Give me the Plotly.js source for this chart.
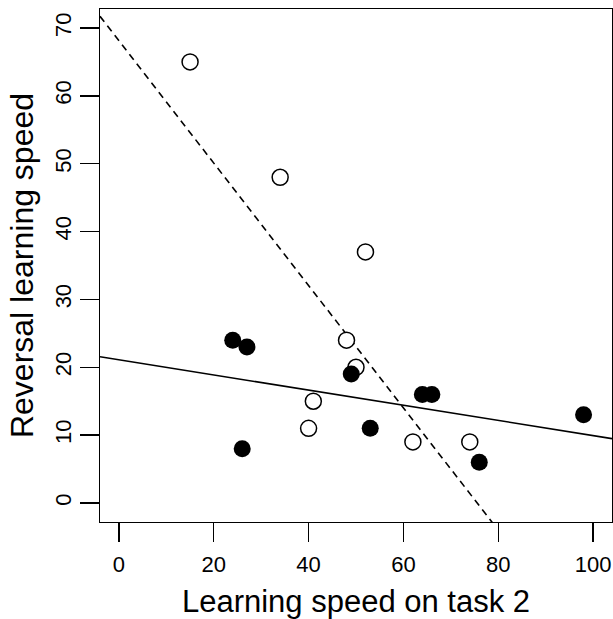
<!DOCTYPE html>
<html>
<head>
<meta charset="utf-8">
<script src="https://cdn.plot.ly/plotly-3.0.1.min.js"></script>
<style>html,body{margin:0;padding:0;background:#fff;}#chart{width:613px;height:619px;}</style>
</head>
<body>
<div id="chart"></div>
<script>
// Open circles (dashed regression line)
const openX = [15, 34, 52, 48, 50, 41, 40, 62, 74];
const openY = [65, 48, 37, 24, 20, 15, 11, 9, 9];
// Filled circles (solid regression line)
const filledX = [24, 27, 26, 49, 53, 64, 66, 76, 98];
const filledY = [24, 23, 8, 19, 11, 16, 16, 6, 13];
const xTicks = [0, 20, 40, 60, 80, 100];
const yTicks = [0, 10, 20, 30, 40, 50, 60, 70];
const xRange = [-4, 104];
const yRange = [-2.8, 72.8];

function fit(xs, ys) {
  const n = xs.length;
  const mx = xs.reduce((a, b) => a + b, 0) / n;
  const my = ys.reduce((a, b) => a + b, 0) / n;
  let sxy = 0, sxx = 0;
  for (let i = 0; i < n; i++) { sxy += (xs[i] - mx) * (ys[i] - my); sxx += (xs[i] - mx) ** 2; }
  const b = sxy / sxx;
  return { a: my - b * mx, b: b };
}
function lineTrace(f, dash) {
  const xs = [xRange[0], xRange[1]];
  return {
    x: xs, y: xs.map(v => f.a + f.b * v), mode: 'lines', type: 'scatter',
    line: { color: '#000', width: 1.6, dash: dash }, hoverinfo: 'skip'
  };
}
const fOpen = fit(openX, openY);
const fFilled = fit(filledX, filledY);

const data = [
  lineTrace(fOpen, '7px,5px'),
  lineTrace(fFilled, 'solid'),
  { x: openX, y: openY, mode: 'markers', type: 'scatter',
    marker: { size: 16, color: '#fff', line: { color: '#000', width: 1.5 } } },
  { x: filledX, y: filledY, mode: 'markers', type: 'scatter',
    marker: { size: 17, color: '#000', line: { color: '#000', width: 0 } } }
];

const FAM = 'Liberation Sans, Arial, sans-serif';
const axisFont = { family: FAM, size: 22, color: '#000' };
const layout = {
  width: 613, height: 619,
  margin: { l: 100, r: 1, t: 9, b: 97 },
  paper_bgcolor: '#fff', plot_bgcolor: '#fff',
  showlegend: false,
  font: { family: FAM, color: '#000' },
  xaxis: {
    range: xRange, tickvals: xTicks, ticktext: xTicks.map(String),
    ticks: 'outside', ticklen: 19, tickwidth: 1.3, tickcolor: '#000',
    ticklabelstandoff: 3,
    showline: true, linecolor: '#000', linewidth: 1.3, mirror: true,
    showgrid: false, zeroline: false, tickfont: axisFont,
    title: { text: 'Learning speed on task 2', font: { family: FAM, size: 31, color: '#000' }, standoff: 14 }
  },
  yaxis: {
    range: yRange, tickvals: yTicks, ticktext: yTicks.map(String),
    ticks: 'outside', ticklen: 19, tickwidth: 1.3, tickcolor: '#000', tickangle: -90,
    showline: true, linecolor: '#000', linewidth: 1.3, mirror: true,
    showgrid: false, zeroline: false, tickfont: axisFont,
    title: { text: 'Reversal learning speed', font: { family: FAM, size: 32, color: '#000' }, standoff: 7 }
  }
};
Plotly.newPlot('chart', data, layout, { displayModeBar: false, staticPlot: true });
</script>
</body>
</html>
